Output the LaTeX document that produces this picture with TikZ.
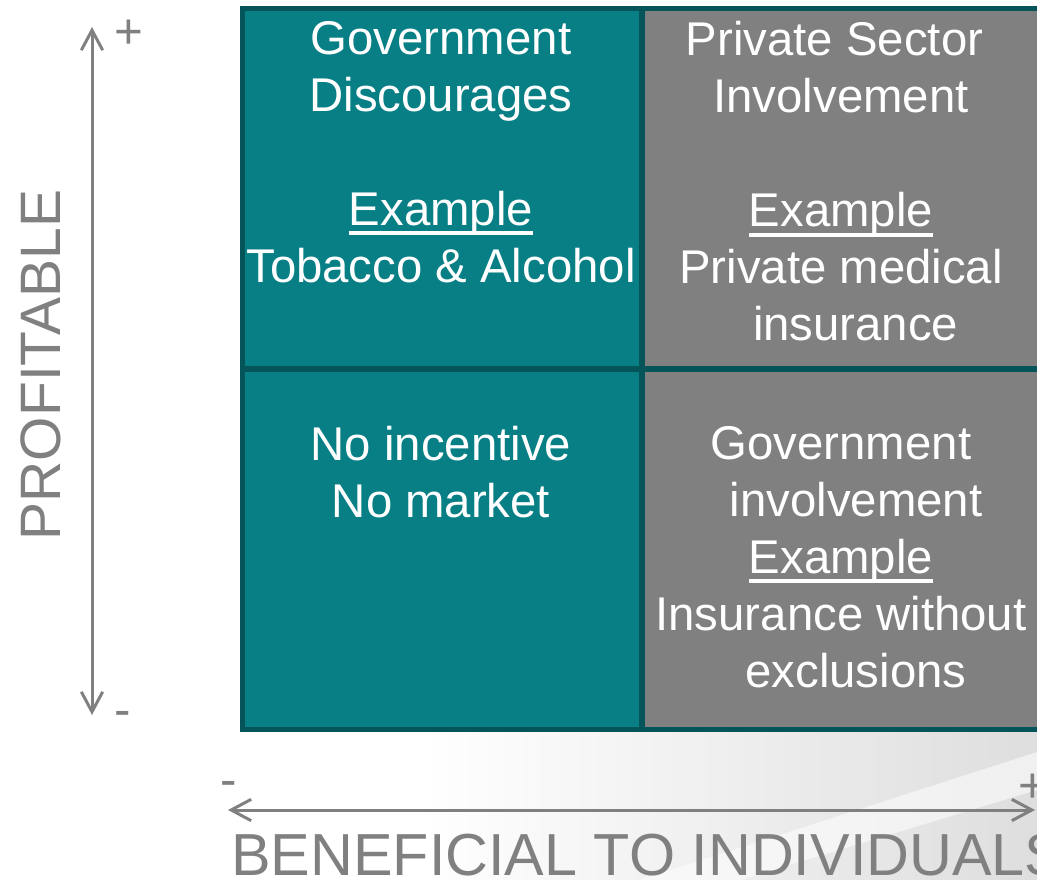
\documentclass[tikz,border=0pt]{standalone}
\usepackage{fontspec}
\setmainfont{Liberation Sans}
\usepackage{xcolor}
\usetikzlibrary{arrows.meta,positioning}

\definecolor{cellteal}{RGB}{7,127,133}
\definecolor{gridteal}{RGB}{4,84,90}
\definecolor{cellgray}{RGB}{128,128,128}
\definecolor{axisgray}{RGB}{128,128,128}

% underline sitting close to the baseline
\newcommand{\exline}[1]{\setbox0\hbox{#1}\rlap{\rule[-7.5pt]{\wd0}{3pt}}\box0}

\begin{document}
\begin{tikzpicture}[
    x=0.75pt, y=-0.75pt,
    cell/.style={text=white, align=center, inner sep=0pt, anchor=north, font=\fontsize{35.5}{42.75}\selectfont},
    title/.style={text=axisgray, inner sep=0pt, font=\fontsize{42.75}{50}\selectfont},
    sign/.style={text=axisgray, inner sep=0pt, anchor=base, font=\fontsize{37}{40}\selectfont},
    axis/.style={draw=axisgray, line width=2.25pt, {Straight Barb[length=15pt,width=16pt]}-{Straight Barb[length=15pt,width=16pt]}},
    gridline/.style={draw=gridteal, line width=3.75pt}
]

\useasboundingbox (0,0) rectangle (1037,880);
\clip (0,0) rectangle (1037,880);

% Background sheen
\shade[left color=white, right color=black!13] (420,731) rectangle (1037,880);
\fill[white, opacity=0.55] (640,880) -- (1037,752) -- (1037,790) -- (740,880) -- cycle;

% Quadrants
\fill[cellteal] (240,7) rectangle (642,731);
\fill[cellgray] (642,7) rectangle (1045,731);
\draw[gridline] (242.5,8.5) rectangle (1045,729);
\draw[gridline, line width=4.5pt] (642,8.5) -- (642,729);
\draw[gridline, line width=4.5pt] (242.5,368.5) -- (1045,368.5);

% Quadrant texts
\node[cell] (discourage) at (441,21) {Government\\Discourages\\[42.75pt]\exline{Example}\\Tobacco \& Alcohol};
\node[cell] (privsector) at (841,21) {Private Sector\hspace*{9.75pt}\\Involvement\\[42.75pt]\exline{Example}\\Private medical\\\hspace*{22pt}insurance};
\node[cell] (nomarket) at (441,426) {No incentive\\No market};
\node[cell] (govinv) at (841,426) {Government\\\hspace*{22.5pt}involvement\\\exline{Example}\\Insurance without\\\hspace*{22.5pt}exclusions};

% Vertical axis
\coordinate (ptop) at (92,27);
\coordinate (pbot) at (92,715);
\draw[axis] (pbot) -- (ptop);
\node[sign] (pplus) at (129,48.5) {+};
\node[sign] (pminus) at (123,726.5) {-};
\node[title, rotate=90, anchor=base] (profitlabel) at (60,365) {PROFITABLE};

% Horizontal axis
\coordinate (bleft) at (228,810);
\coordinate (bright) at (1035,810);
\draw[axis] (bleft) -- (bright);
\node[sign] (bminus) at (229,796.5) {-};
\node[sign] (bplus) at (1032.5,802) {+};
\node[title, anchor=base west, font=\fontsize{44.5}{50}\selectfont] (benefitlabel) at (231,875) {BENEFICIAL TO INDIVIDUALS};

\end{tikzpicture}
\end{document}
